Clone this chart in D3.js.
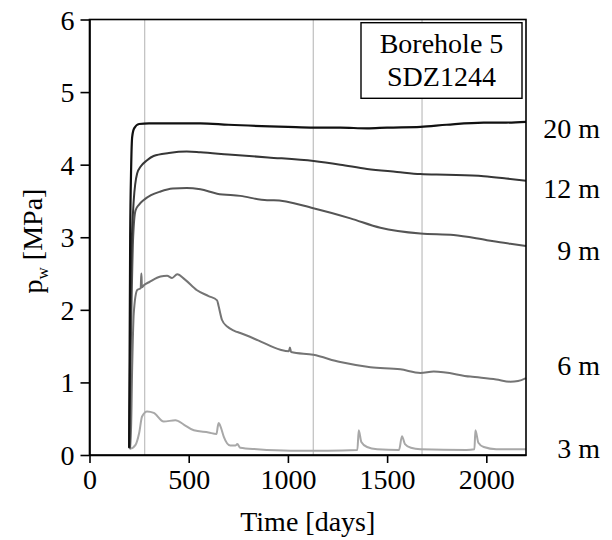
<!DOCTYPE html>
<html>
<head>
<meta charset="utf-8">
<script src="https://cdn.jsdelivr.net/npm/d3@7/dist/d3.min.js"></script>
<style>
    body { margin: 0; background: #fff; }
    svg text { font-family: "Liberation Serif", "Times New Roman", serif; fill: #000; }
</style>
</head>
<body>
<div id="chart"></div>
<script>
// days / pore pressure (MPa)
var days20 = [200, 205, 210, 215, 225, 250, 300, 400, 559, 700, 1000, 1130, 1264, 1399, 1500, 1668, 1800, 1987, 2100, 2200]
var p20 = [0.1, 3.0, 3.97, 4.38, 4.5, 4.56, 4.57, 4.57, 4.57, 4.55, 4.52, 4.51, 4.51, 4.5, 4.51, 4.52, 4.55, 4.58, 4.58, 4.59]

var days12 = [200, 208, 215, 223, 240, 257, 290, 323, 400, 490, 559, 700, 900, 1130, 1264, 1399, 1550, 1668, 1800, 1987, 2100, 2200]
var p12 = [0.1, 2.4, 3.1, 3.51, 3.88, 3.97, 4.06, 4.12, 4.16, 4.18, 4.17, 4.14, 4.1, 4.05, 4.0, 3.94, 3.9, 3.87, 3.86, 3.84, 3.81, 3.78]

var days9 = [200, 210, 220, 232, 250, 272, 310, 358, 420, 490, 559, 643, 760, 895, 929, 1128, 1315, 1466, 1668, 1835, 2003, 2121, 2200]
var p9 = [0.1, 1.8, 3.0, 3.37, 3.45, 3.51, 3.58, 3.63, 3.67, 3.68, 3.66, 3.6, 3.57, 3.51, 3.51, 3.4, 3.26, 3.13, 3.05, 3.03, 2.96, 2.91, 2.88]

var days6 = [200, 207, 215, 223, 240, 258, 261, 262, 264, 274, 300, 358, 391, 416, 442, 480, 542, 600, 643, 650, 668, 694, 730, 760, 850, 962, 1005, 1010, 1016, 1128, 1264, 1416, 1567, 1668, 1735, 1919, 2050, 2121, 2160, 2200]
var p6 = [0.1, 0.09, 1.2, 1.95, 2.27, 2.3, 2.5, 2.5, 2.31, 2.34, 2.38, 2.46, 2.47, 2.44, 2.49, 2.42, 2.27, 2.19, 2.13, 2.06, 1.86, 1.77, 1.71, 1.68, 1.58, 1.45, 1.43, 1.48, 1.42, 1.38, 1.28, 1.21, 1.18, 1.13, 1.15, 1.08, 1.04, 1.01, 1.02, 1.06]

var days3 = [200, 207, 232, 250, 265, 290, 324, 374, 433, 475, 526, 600, 640, 647, 651, 662, 677, 710, 735, 745, 760, 845, 1013, 1200, 1350, 1357, 1370, 1399, 1450, 1560, 1575, 1590, 1620, 1668, 1900, 1940, 1945, 1960, 1987, 2050, 2200]
var p3 = [0.1, 0.09, 0.14, 0.3, 0.53, 0.6, 0.58, 0.46, 0.48, 0.42, 0.34, 0.31, 0.29, 0.4, 0.44, 0.38, 0.25, 0.13, 0.13, 0.15, 0.1, 0.08, 0.06, 0.06, 0.07, 0.34, 0.18, 0.11, 0.08, 0.07, 0.26, 0.15, 0.1, 0.08, 0.07, 0.08, 0.34, 0.17, 0.11, 0.08, 0.08]

var seriesNames = ['20 m', '12 m', '9 m', '6 m', '3 m']
var seriesColors = ['#111111', '#363636', '#555555', '#747474', '#a8a8a8']
var labelValues = [4.37, 3.54, 2.69, 1.1, -0.04]   // baseline of the right-hand labels (MPa)
var eventDays = [278, 1128, 1676]
var xTicks = [0, 500, 1000, 1500, 2000]
var yTicks = [0, 1, 2, 3, 4, 5, 6]
var boxLines = ['Borehole 5', 'SDZ1244']

var width = 612
var height = 540
var svg = d3.select('#chart').append('svg').attr('width', width).attr('height', height)

var x = d3.scaleLinear().domain([0, 2200]).range([89.5, 526])
var y = d3.scaleLinear().domain([0, 6]).range([455, 19.5])

// grey vertical lines
svg.selectAll('line.event').data(eventDays).enter().append('line')
    .attr('class', 'event')
    .attr('x1', function (d) { return x(d) }).attr('x2', function (d) { return x(d) })
    .attr('y1', y(6)).attr('y2', y(0))
    .attr('stroke', '#c4c4c4').attr('stroke-width', 1.3)

var line = d3.line()
    .x(function (d) { return x(d[0]) })
    .y(function (d) { return y(d[1]) })
    .curve(d3.curveMonotoneX)

var allDays = [days20, days12, days9, days6, days3]
var allP = [p20, p12, p9, p6, p3]
// draw light ones first so the dark ones sit on top
for (var i = allDays.length - 1; i >= 0; i--) {
    var pts = allDays[i].map(function (d, j) { return [d, allP[i][j]] })
    svg.append('path').datum(pts)
        .attr('d', line)
        .attr('fill', 'none')
        .attr('stroke', seriesColors[i])
        .attr('stroke-width', i == 0 ? 2.2 : 2)
        .attr('stroke-linejoin', 'round')
}

// frame
svg.append('rect')
    .attr('x', x(0)).attr('y', y(6))
    .attr('width', x(2200) - x(0)).attr('height', y(0) - y(6))
    .attr('fill', 'none').attr('stroke', '#000').attr('stroke-width', 1.6)

var xAxis = svg.append('g').attr('transform', 'translate(0,' + y(0) + ')')
    .call(d3.axisBottom(x).tickValues(xTicks).tickSize(8).tickSizeOuter(0).tickFormat(d3.format('d')))
var yAxis = svg.append('g').attr('transform', 'translate(' + x(0) + ',0)')
    .call(d3.axisLeft(y).tickValues(yTicks).tickSize(9).tickSizeOuter(0).tickFormat(d3.format('d')))

svg.selectAll('.domain').attr('stroke', '#000').attr('stroke-width', 1.6)
svg.selectAll('.tick line').attr('stroke', '#000').attr('stroke-width', 1.6)
svg.selectAll('.tick text').attr('font-size', 28).attr('font-family', '"Liberation Serif", serif').attr('fill', '#000')
xAxis.selectAll('.tick text').attr('y', 14).attr('dy', '0.71em')
yAxis.selectAll('.tick text').attr('x', -15).attr('dy', '0.34em')

// axis titles
svg.append('text')
    .attr('x', (x(0) + x(2200)) / 2).attr('y', 531)
    .attr('text-anchor', 'middle').attr('font-size', 28)
    .text('Time [days]')

var yTitle = svg.append('text')
    .attr('transform', 'translate(42,241) rotate(-90)')
    .attr('text-anchor', 'middle').attr('font-size', 28)
yTitle.append('tspan').text('p')
yTitle.append('tspan').attr('font-size', 17).attr('dy', 6).text('w')
yTitle.append('tspan').attr('dy', -6).text('  [MPa]')

// depth labels
svg.selectAll('text.depth').data(seriesNames).enter().append('text')
    .attr('class', 'depth')
    .attr('x', 600)
    .attr('y', function (d, i) { return y(labelValues[i]) })
    .attr('text-anchor', 'end').attr('font-size', 28)
    .text(function (d) { return d })

// borehole box
svg.append('rect')
    .attr('x', 361).attr('y', 22.7).attr('width', 161).attr('height', 75.6)
    .attr('fill', '#fff').attr('stroke', '#000').attr('stroke-width', 1.4)
svg.selectAll('text.box').data(boxLines).enter().append('text')
    .attr('class', 'box')
    .attr('x', 441.5)
    .attr('y', function (d, i) { return 53 + i * 33 })
    .attr('text-anchor', 'middle').attr('font-size', 28)
    .text(function (d) { return d })
</script>
</body>
</html>
